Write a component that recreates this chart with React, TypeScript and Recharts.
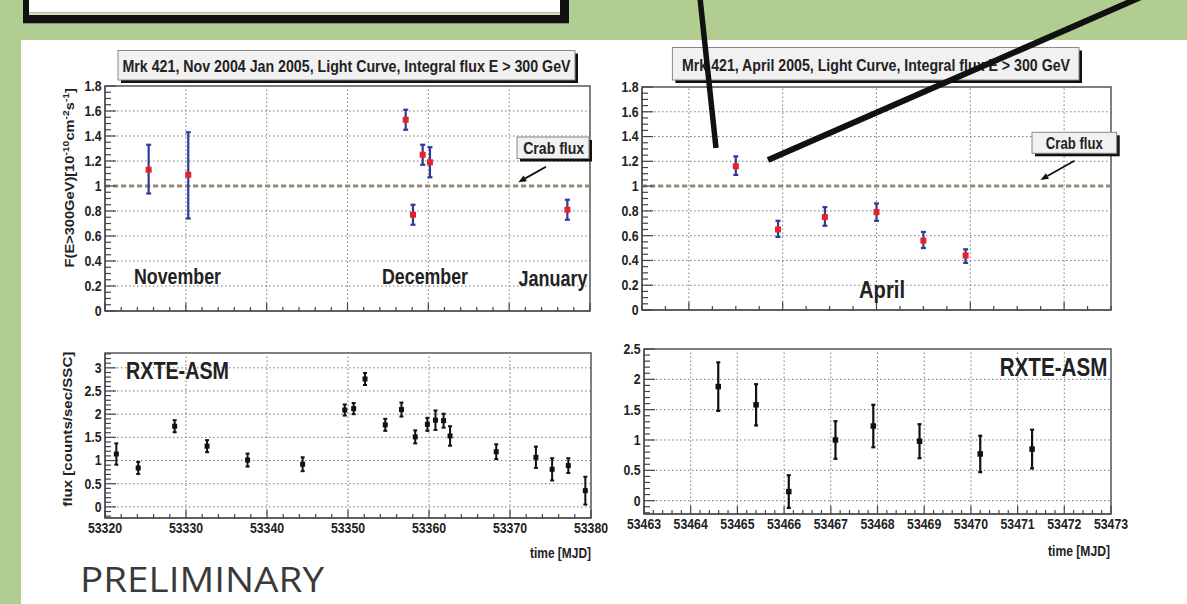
import React from 'react';
import { ScatterChart, Scatter, XAxis, YAxis, ErrorBar, ReferenceLine, ReferenceArea } from 'recharts';

// ---------------- data ----------------
// Top-left: VHE light curve Nov 2004 - Jan 2005
const tlMjd = [53325.4, 53330.3, 53357.2, 53358.1, 53359.3, 53360.2, 53377.2];
const tlFlux = [1.13, 1.09, 1.53, 0.77, 1.25, 1.19, 0.81];
const tlErrLo = [0.19, 0.35, 0.08, 0.08, 0.08, 0.12, 0.08];
const tlErrHi = [0.2, 0.34, 0.08, 0.08, 0.08, 0.12, 0.08];

// Bottom-left: RXTE-ASM Nov 2004 - Jan 2005
const blMjd = [53321.4, 53324.1, 53328.6, 53332.6, 53337.6, 53344.4, 53349.6, 53350.7, 53352.1, 53354.6, 53356.6, 53358.3, 53359.8, 53360.8, 53361.8, 53362.6, 53368.3, 53373.2, 53375.2, 53377.2, 53379.3];
const blRate = [1.14, 0.84, 1.74, 1.31, 1.01, 0.92, 2.09, 2.12, 2.76, 1.77, 2.1, 1.51, 1.78, 1.87, 1.86, 1.53, 1.19, 1.07, 0.81, 0.89, 0.35];
const blErr = [0.23, 0.13, 0.13, 0.13, 0.14, 0.15, 0.12, 0.12, 0.13, 0.13, 0.15, 0.14, 0.14, 0.21, 0.15, 0.21, 0.16, 0.23, 0.24, 0.16, 0.3];

// Top-right: VHE light curve April 2005
const trMjd = [53465.0, 53465.9, 53466.9, 53468.0, 53469.0, 53469.9];
const trFlux = [1.16, 0.65, 0.75, 0.79, 0.56, 0.44];
const trErrLo = [0.07, 0.06, 0.07, 0.07, 0.06, 0.06];
const trErrHi = [0.08, 0.07, 0.08, 0.07, 0.07, 0.05];

// Bottom-right: RXTE-ASM April 2005
const brMjd = [53464.59, 53465.4, 53466.1, 53467.1, 53467.91, 53468.9, 53470.2, 53471.31];
const brRate = [1.88, 1.58, 0.15, 1.0, 1.23, 0.98, 0.77, 0.85];
const brErr = [0.4, 0.34, 0.27, 0.31, 0.35, 0.28, 0.3, 0.32];

// ticks / grid
const xMajorLeft = [53320, 53330, 53340, 53350, 53360, 53370, 53380];
const xGridLeft = [53330, 53340, 53350, 53360, 53370];
const xMajorTR = [53464, 53466, 53468, 53470, 53472];
const xMajorBR = [53463, 53464, 53465, 53466, 53467, 53468, 53469, 53470, 53471, 53472, 53473];
const xGridBR = [53464, 53465, 53466, 53467, 53468, 53469, 53470, 53471, 53472];
const yMajorTeV = [0, 0.2, 0.4, 0.6, 0.8, 1, 1.2, 1.4, 1.6, 1.8];
const yGridTeV = [0.2, 0.4, 0.6, 0.8, 1, 1.2, 1.4, 1.6];
const yMajorBL = [0, 0.5, 1, 1.5, 2, 2.5, 3];
const yMajorBR = [0, 0.5, 1, 1.5, 2, 2.5];
const yGridBR = [0, 0.5, 1, 1.5, 2];
const crabFlux = 1;

// ---------------- helpers ----------------
const SY = 1.22;
const FONT = "'Liberation Sans', Arial, Helvetica, sans-serif";
const GREEN = '#b2cd91';

type Pt = { x: number; y: number; err: [number, number] };
const mk = (xs: number[], ys: number[], lo: number[], hi: number[]): Pt[] =>
  xs.map((x, i) => ({ x, y: ys[i], err: [lo[i], hi[i]] }));

const range = (lo: number, hi: number, step: number) => {
  const out: number[] = [];
  const k0 = Math.ceil(lo / step - 1e-9);
  const k1 = Math.floor(hi / step + 1e-9);
  for (let k = k0; k <= k1; k++) out.push(+(k * step).toFixed(6));
  return out;
};
const has = (arr: number[], v: number) => arr.some((m) => Math.abs(m - v) < 1e-6);

function T({ x, y, size, children, anchor = 'middle', rot = 0, len, weight = 700, fill = '#222', sy = SY }: any) {
  return (
    <g transform={`translate(${x},${y}) scale(1,${sy}) rotate(${rot})`}>
      <text
        x={0}
        y={0}
        textAnchor={anchor}
        dominantBaseline="central"
        fontFamily={FONT}
        fontSize={size}
        fontWeight={weight}
        fill={fill}
        textLength={len}
        lengthAdjust={len ? 'spacingAndGlyphs' : undefined}
      >
        {children}
      </text>
    </g>
  );
}

const ML = 30, YW = 45, MT = 10, MR = 40, XH = 30, MB = 5;

type PanelProps = {
  left: number; top: number; plotW: number; plotH: number;
  xDomain: [number, number]; yDomain: [number, number];
  xMajor: number[]; xMinorStep: number; yMajor: number[]; yMinorStep: number;
  xGrid: number[]; yGrid: number[]; showXLabels: boolean;
  data: Pt[]; mark: string; markSize: number; bar: string; barW: number; cap: number; crab?: boolean;
};

function Panel(p: PanelProps) {
  const W = ML + YW + p.plotW + MR;
  const H = MT + p.plotH + XH + MB;
  const xTicks = range(p.xDomain[0], p.xDomain[1], p.xMinorStep);
  const yTicks = range(p.yDomain[0], p.yDomain[1], p.yMinorStep);
  const XTick = (tp: any) => {
    const { x, y, payload } = tp;
    const maj = has(p.xMajor, payload.value);
    return (
      <g>
        <line x1={x} x2={x} y1={y} y2={y - (maj ? 8 : 4)} stroke="#444" strokeWidth={1.2} />
        {maj && p.showXLabels && (
          <T x={x} y={y + 10} size={12.3}>{String(payload.value)}</T>
        )}
      </g>
    );
  };
  const YTick = (tp: any) => {
    const { x, y, payload } = tp;
    const maj = has(p.yMajor, payload.value);
    return (
      <g>
        <line x1={x} x2={x + (maj ? 11 : 6)} y1={y} y2={y} stroke="#444" strokeWidth={1.2} />
        {maj && (
          <T x={x - 3.5} y={y} size={12.3} anchor="end">{String(payload.value)}</T>
        )}
      </g>
    );
  };
  const Square = (sp: any) => {
    const { cx, cy } = sp;
    if (cx == null || cy == null) return <g />;
    const s = p.markSize;
    return <rect x={cx - s / 2} y={cy - s / 2} width={s} height={s} fill={p.mark} />;
  };
  return (
    <div style={{ position: 'absolute', left: p.left - ML - YW, top: p.top - MT }}>
      <ScatterChart width={W} height={H} margin={{ top: MT, right: MR, bottom: MB, left: ML }}>
        <XAxis
          type="number"
          dataKey="x"
          domain={p.xDomain}
          ticks={xTicks}
          interval={0}
          tickSize={0}
          tickMargin={0}
          tickLine={false}
          axisLine={{ stroke: '#555', strokeWidth: 1.5 }}
          height={XH}
          allowDataOverflow
          tick={XTick}
        />
        <YAxis
          type="number"
          dataKey="y"
          domain={p.yDomain}
          ticks={yTicks}
          interval={0}
          tickSize={0}
          tickMargin={0}
          tickLine={false}
          axisLine={{ stroke: '#555', strokeWidth: 1.5 }}
          width={YW}
          allowDataOverflow
          tick={YTick}
        />
        {p.xGrid.map((v) => (
          <ReferenceLine key={'gx' + v} x={v} stroke="#777" strokeWidth={1} strokeDasharray="1.5 2.5" />
        ))}
        {p.yGrid.map((v) => (
          <ReferenceLine key={'gy' + v} y={v} stroke="#777" strokeWidth={1} strokeDasharray="1.5 2.5" />
        ))}
        {p.crab && (
          <ReferenceLine y={crabFlux} stroke="#9c8a78" strokeWidth={3} strokeDasharray="5 3" />
        )}
        <ReferenceArea
          x1={p.xDomain[0]}
          x2={p.xDomain[1]}
          y1={p.yDomain[0]}
          y2={p.yDomain[1]}
          fill="none"
          fillOpacity={0}
          stroke="#555"
          strokeWidth={1.5}
          ifOverflow="visible"
        />
        <Scatter data={p.data} isAnimationActive={false} shape={Square}>
          <ErrorBar dataKey="err" direction="y" width={p.cap} stroke={p.bar} strokeWidth={p.barW} isAnimationActive={false} />
        </Scatter>
      </ScatterChart>
    </div>
  );
}

function Arrow({ x1, y1, x2, y2 }: any) {
  const ang = Math.atan2(y2 - y1, x2 - x1);
  const L = 8, Wd = 3.2;
  const bx = x2 - L * Math.cos(ang), by = y2 - L * Math.sin(ang);
  const px = -Math.sin(ang) * Wd, py = Math.cos(ang) * Wd;
  return (
    <g>
      <line x1={x1} y1={y1} x2={bx} y2={by} stroke="#111" strokeWidth={1.8} />
      <polygon points={`${x2},${y2} ${bx + px},${by + py} ${bx - px},${by - py}`} fill="#111" />
    </g>
  );
}

function Box({ x, y, w, h }: any) {
  return (
    <g>
      <rect x={x + 3} y={y + 3} width={w} height={h} fill="#111" />
      <rect x={x} y={y} width={w} height={h} fill="#f1f1f1" stroke="#888" strokeWidth={1} />
    </g>
  );
}

export default function App() {
  const tl = mk(tlMjd, tlFlux, tlErrLo, tlErrHi);
  const bl = mk(blMjd, blRate, blErr, blErr);
  const tr = mk(trMjd, trFlux, trErrLo, trErrHi);
  const br = mk(brMjd, brRate, brErr, brErr);
  return (
    <div style={{ position: 'absolute', left: 0, top: 0, width: 1187, height: 604, background: GREEN, overflow: 'hidden' }}>
      <div style={{ position: 'absolute', left: 21, top: 40, width: 1166, height: 564, background: '#fff' }} />
      <Panel
        left={105} top={86} plotW={485} plotH={225}
        xDomain={[53320, 53380]} yDomain={[0, 1.8]}
        xMajor={xMajorLeft} xMinorStep={2} yMajor={yMajorTeV} yMinorStep={0.05}
        xGrid={xGridLeft} yGrid={yGridTeV} showXLabels={false}
        data={tl} mark="#e8202a" markSize={6} bar="#2d3c9a" barW={2.2} cap={2.5} crab
      />
      <Panel
        left={105} top={353} plotW={486} plotH={165}
        xDomain={[53320, 53380]} yDomain={[-0.24, 3.32]}
        xMajor={xMajorLeft} xMinorStep={2} yMajor={yMajorBL} yMinorStep={0.1}
        xGrid={xGridLeft} yGrid={yMajorBL} showXLabels
        data={bl} mark="#111" markSize={5} bar="#111" barW={2} cap={2}
      />
      <Panel
        left={642} top={87} plotW={469} plotH={223}
        xDomain={[53463, 53473]} yDomain={[0, 1.8]}
        xMajor={xMajorTR} xMinorStep={0.5} yMajor={yMajorTeV} yMinorStep={0.05}
        xGrid={xMajorTR} yGrid={yGridTeV} showXLabels={false}
        data={tr} mark="#e8202a" markSize={6} bar="#2d3c9a" barW={2.2} cap={2.5} crab
      />
      <Panel
        left={644} top={349} plotW={467} plotH={165}
        xDomain={[53463, 53473]} yDomain={[-0.22, 2.5]}
        xMajor={xMajorBR} xMinorStep={0.2} yMajor={yMajorBR} yMinorStep={0.1}
        xGrid={xGridBR} yGrid={yGridBR} showXLabels
        data={br} mark="#111" markSize={5.5} bar="#111" barW={2.2} cap={2}
      />
      <svg width={1187} height={604} style={{ position: 'absolute', left: 0, top: 0, pointerEvents: 'none' }}>
        {/* slide box top-left */}
        <rect x={23} y={-5} width={546} height={28.3} fill="#111" />
        <rect x={29} y={-5} width={531} height={17.3} fill="#fff" />
        <rect x={29} y={12.3} width={531} height={2.7} fill="#d3e3bf" />

        {/* titles */}
        <Box x={118} y={50.5} w={457} h={29.5} />
        <T x={346.5} y={66} size={13.5} len={448}>Mrk 421, Nov 2004 Jan 2005, Light Curve, Integral flux E &gt; 300 GeV</T>
        <Box x={672.4} y={47.5} w={406.6} h={32.5} />
        <T x={876} y={64.5} size={13.5} len={388}>Mrk 421, April 2005, Light Curve, Integral flux E &gt; 300 GeV</T>

        {/* crab flux labels */}
        <Box x={517} y={137} w={72} h={21.5} />
        <T x={553.7} y={147.5} size={13.5} len={61}>Crab flux</T>
        <Arrow x1={546} y1={166.7} x2={518.3} y2={182.3} />
        <Box x={1032} y={132.3} w={84.7} h={21} />
        <T x={1074.3} y={142.5} size={13.5} len={57}>Crab flux</T>
        <Arrow x1={1074.4} y1={160.7} x2={1040.5} y2={180} />

        {/* month labels */}
        <T x={177.5} y={276} size={18} len={87}>November</T>
        <T x={425} y={276} size={18} len={86}>December</T>
        <T x={553} y={278} size={18} len={69}>January</T>
        <T x={882} y={290} size={20} len={46}>April</T>

        {/* RXTE-ASM */}
        <T x={177.5} y={370.7} size={20} len={103}>RXTE-ASM</T>
        <T x={1107.3} y={367} size={21} len={107.6} anchor="end">RXTE-ASM</T>

        {/* axis titles */}
        <T x={591} y={552.7} size={12} len={61} anchor="end">time [MJD]</T>
        <T x={1110} y={551} size={12} len={62} anchor="end">time [MJD]</T>
        <g transform={`translate(69.5,88) scale(1,${SY}) rotate(-90)`}>
          <text x={0} y={0} textAnchor="end" dominantBaseline="central" fontFamily={FONT} fontSize={12} fontWeight={700} fill="#222">
            {'F(E>300GeV)[10'}
            <tspan dy={-4} fontSize={8.5}>-10</tspan>
            <tspan dy={4}>cm</tspan>
            <tspan dy={-4} fontSize={8.5}>-2</tspan>
            <tspan dy={4}>s</tspan>
            <tspan dy={-4} fontSize={8.5}>-1</tspan>
            <tspan dy={4}>]</tspan>
          </text>
        </g>
        <T x={68} y={351.7} size={12.3} len={127} anchor="end" rot={-90}>flux [counts/sec/SSC]</T>

        {/* PRELIMINARY */}
        <text x={80} y={592} fontFamily="'Open Sans', 'Noto Sans', sans-serif" fontSize={34} fill="#3a3a3a" textLength={244} lengthAdjust="spacingAndGlyphs">PRELIMINARY</text>

        {/* slide pointer lines */}
        <line x1={700} y1={-2} x2={716} y2={148} stroke="#111" strokeWidth={5.5} />
        <line x1={768} y1={160} x2={1141} y2={-3} stroke="#111" strokeWidth={6} />
      </svg>
    </div>
  );
}
